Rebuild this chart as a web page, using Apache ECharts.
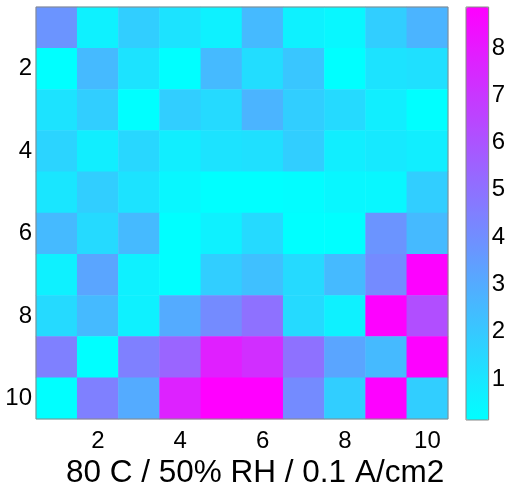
<!DOCTYPE html>
<html>
<head>
<meta charset="utf-8">
<script src="https://cdn.jsdelivr.net/npm/echarts@6/dist/echarts.min.js"></script>
<style>html,body{margin:0;padding:0;background:#fff;}#c{width:508px;height:494px;}</style>
</head>
<body>
<div id="c"></div>
<script>
var cols = ['1','2','3','4','5','6','7','8','9','10'];
var rows = ['1','2','3','4','5','6','7','8','9','10'];
var row1  = [3.8, 0.6, 1.8, 1.1, 0.6, 2.5, 0.6, 0.4, 1.8, 2.7];
var row2  = [0.13, 2.5, 1.1, 0.13, 2.5, 1.3, 2.1, 0.13, 1.1, 1.2];
var row3  = [1.1, 1.8, 0.13, 1.8, 1.4, 2.7, 1.8, 1.4, 0.7, 0.13];
var row4  = [1.6, 0.7, 1.5, 0.7, 1.1, 1.2, 1.8, 0.7, 0.9, 0.7];
var row5  = [1.0, 1.8, 1.1, 0.4, 0.13, 0.13, 0.2, 0.4, 0.4, 1.8];
var row6  = [2.5, 1.4, 2.5, 0.13, 0.6, 1.4, 0.13, 0.13, 3.8, 2.5];
var row7  = [0.6, 3.2, 0.6, 0.13, 1.8, 2.3, 1.4, 2.5, 4.1, 8.8];
var row8  = [1.4, 2.5, 0.6, 3.0, 4.1, 5.0, 1.4, 0.6, 8.8, 6.2];
var row9  = [4.5, 0.13, 4.5, 5.4, 7.8, 7.3, 5.0, 3.2, 2.5, 8.8];
var row10 = [0.13, 4.5, 3.0, 7.7, 8.87, 8.87, 4.1, 1.8, 8.8, 1.8];
var colorMin = 0.133, colorMax = 8.867;
var title = '80 C / 50% RH / 0.1 A/cm2';

var allRows = [row1,row2,row3,row4,row5,row6,row7,row8,row9,row10];
var data = [];
allRows.forEach(function(r, ri){ r.forEach(function(v, ci){ data.push([ci, ri, v]); }); });

var FONT = 'Liberation Sans';
var tickColor = '#3a4a4a';
var evenOnly = function(i){ return i % 2 === 1; };
var chart = echarts.init(document.getElementById('c'));
chart.setOption({
  animation: false,
  backgroundColor: '#fff',
  textStyle: {fontFamily: FONT},
  grid: [
    {left: 36, top: 7, width: 412, height: 412, show: true, borderColor: '#888', borderWidth: 1, backgroundColor: 'transparent', z: 5},
    {left: 466, top: 7, width: 23, height: 413, show: true, borderColor: '#888', borderWidth: 1, backgroundColor: 'transparent', z: 5}
  ],
  xAxis: [
    {gridIndex: 0, type: 'category', data: cols, position: 'bottom', z: 10,
     axisLine: {show: false},
     axisTick: {inside: true, length: 5, alignWithLabel: true, interval: evenOnly, lineStyle: {color: tickColor}},
     axisLabel: {interval: evenOnly, fontSize: 24, color: '#000', margin: 10, fontFamily: FONT},
     splitLine: {show: false}},
    {gridIndex: 0, type: 'category', data: cols, position: 'top', z: 10,
     axisLine: {show: false},
     axisTick: {inside: true, length: 5, alignWithLabel: true, interval: evenOnly, lineStyle: {color: tickColor}},
     axisLabel: {show: false}, splitLine: {show: false}},
    {gridIndex: 1, type: 'category', data: [''], show: false}
  ],
  yAxis: [
    {gridIndex: 0, type: 'category', data: rows, inverse: true, position: 'left', z: 10,
     axisLine: {show: false},
     axisTick: {inside: true, length: 5, alignWithLabel: true, interval: evenOnly, lineStyle: {color: tickColor}},
     axisLabel: {interval: evenOnly, fontSize: 24, color: '#000', margin: 4, padding: [6, 0, 0, 0], fontFamily: FONT},
     splitLine: {show: false}},
    {gridIndex: 0, type: 'category', data: rows, inverse: true, position: 'right', z: 10,
     axisLine: {show: false},
     axisTick: {inside: true, length: 5, alignWithLabel: true, interval: evenOnly, lineStyle: {color: tickColor}},
     axisLabel: {show: false}, splitLine: {show: false}},
    {gridIndex: 1, type: 'value', min: colorMin, max: colorMax, splitNumber: 8, position: 'right', z: 10,
     axisLine: {show: false},
     axisTick: {inside: true, length: 4, lineStyle: {color: tickColor}},
     axisLabel: {fontSize: 24, color: '#000', margin: 3, showMinLabel: false, showMaxLabel: false, fontFamily: FONT},
     splitLine: {show: false}},
    {gridIndex: 1, type: 'value', min: colorMin, max: colorMax, splitNumber: 8, position: 'left', z: 10,
     axisLine: {show: false},
     axisTick: {inside: true, length: 4, lineStyle: {color: tickColor}},
     axisLabel: {show: false}, splitLine: {show: false}}
  ],
  visualMap: {
    type: 'continuous', min: colorMin, max: colorMax, seriesIndex: 0,
    inRange: {color: ['#00ffff', '#ff00ff']},
    orient: 'vertical', left: 466, top: 7, itemWidth: 23, itemHeight: 413,
    padding: 0, calculable: false, text: null, showLabel: false, hoverLink: false
  },
  series: [{
    type: 'heatmap', xAxisIndex: 0, yAxisIndex: 0, data: data,
    itemStyle: {borderWidth: 0}, emphasis: {disabled: true}, progressive: 0
  }],
  graphic: [{
    type: 'text', left: 66, top: 457,
    style: {text: title, font: '31.5px "Liberation Sans"', fill: '#000'}
  }]
});
</script>
</body>
</html>
